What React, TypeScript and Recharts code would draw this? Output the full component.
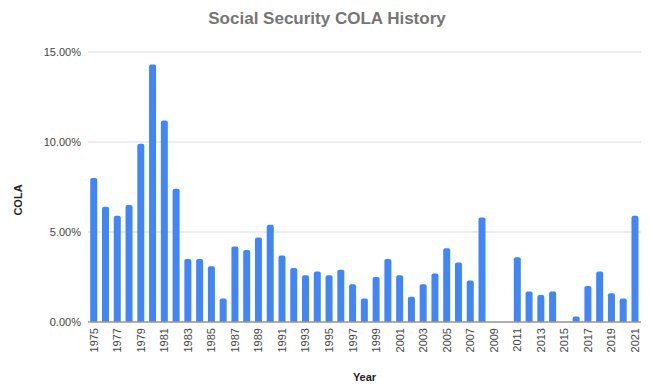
import { Bar, BarChart, CartesianGrid, XAxis, YAxis } from 'recharts';

const YEARS = [
  '1975', '1976', '1977', '1978', '1979', '1980', '1981', '1982', '1983', '1984',
  '1985', '1986', '1987', '1988', '1989', '1990', '1991', '1992', '1993', '1994',
  '1995', '1996', '1997', '1998', '1999', '2000', '2001', '2002', '2003', '2004',
  '2005', '2006', '2007', '2008', '2009', '2010', '2011', '2012', '2013', '2014',
  '2015', '2016', '2017', '2018', '2019', '2020', '2021',
];

const COLA = [
  8.0, 6.4, 5.9, 6.5, 9.9, 14.3, 11.2, 7.4, 3.5, 3.5,
  3.1, 1.3, 4.2, 4.0, 4.7, 5.4, 3.7, 3.0, 2.6, 2.8,
  2.6, 2.9, 2.1, 1.3, 2.5, 3.5, 2.6, 1.4, 2.1, 2.7,
  4.1, 3.3, 2.3, 5.8, 0, 0, 3.6, 1.7, 1.5, 1.7,
  0, 0.3, 2.0, 2.8, 1.6, 1.3, 5.9,
];

const Y_TICKS = [0, 5, 10, 15];

const data = YEARS.map((year, i) => ({ year, cola: COLA[i] }));

const FONT = '"Liberation Sans", Arial, sans-serif';

export default function App() {
  return (
    <div style={{ position: 'absolute', left: 0, top: 0, width: 650, height: 387, background: '#fff', fontFamily: FONT }}>
      <div
        style={{
          position: 'absolute',
          top: 9,
          left: 0,
          width: 654,
          textAlign: 'center',
          fontSize: 17,
          fontWeight: 'bold',
          color: '#757575',
        }}
      >
        Social Security COLA History
      </div>
      <BarChart
        width={650}
        height={387}
        data={data}
        margin={{ top: 52, right: 9, left: 0, bottom: 0 }}
        barCategoryGap="19%"
      >
        <CartesianGrid vertical={false} stroke="#dddddd" />
        <XAxis
          dataKey="year"
          height={65}
          interval={1}
          angle={-90}
          textAnchor="end"
          tickLine={false}
          tickSize={0}
          tickMargin={6}
          axisLine={{ stroke: '#999999', strokeWidth: 1.5 }}
          tick={{ fontSize: 11, fill: '#444444', fontFamily: FONT, dx: -4 }}
          label={{
            value: 'Year',
            position: 'insideBottom',
            offset: 6,
            style: { fontSize: 11, fontWeight: 'bold', fill: '#222222', fontFamily: FONT },
          }}
        />
        <YAxis
          width={88}
          domain={[0, 15]}
          ticks={Y_TICKS}
          axisLine={false}
          tickLine={false}
          tickSize={0}
          tickMargin={7}
          tickFormatter={(v: number) => `${v.toFixed(2)}%`}
          tick={{ fontSize: 11, fill: '#444444', fontFamily: FONT }}
          label={{
            content: () => (
              <text
                x={22}
                y={200}
                transform="rotate(-90 22 200)"
                textAnchor="middle"
                fontSize={11}
                fontWeight="bold"
                fill="#222222"
                fontFamily={FONT}
              >
                COLA
              </text>
            ),
          }}
        />
        <Bar dataKey="cola" fill="#4285f4" radius={[2, 2, 0, 0]} isAnimationActive={false} />
      </BarChart>
    </div>
  );
}
